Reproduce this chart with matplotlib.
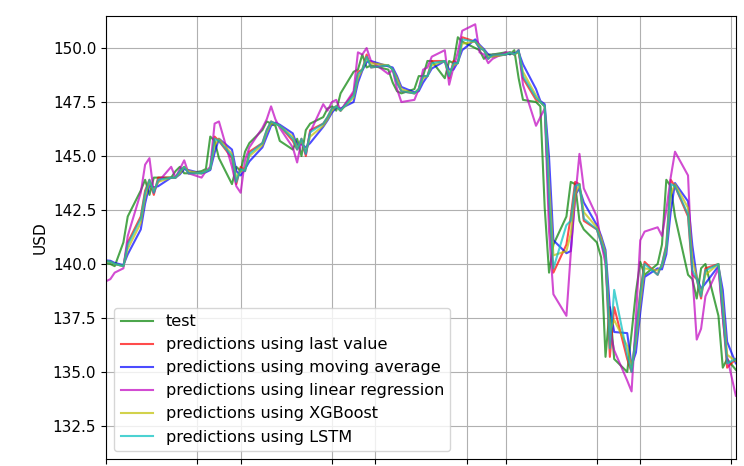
import matplotlib
matplotlib.use('Agg')

import matplotlib.pyplot as plt
import matplotlib.dates as mdates
import pandas as pd

# Trading days shown in the chart
dates = (['2018-06-29'] +
         ['2018-07-%02d' % d for d in [2, 3, 5, 6, 9, 10, 11, 12, 13, 16, 17, 18, 19, 20, 23, 24, 25, 26, 27, 30, 31]] +
         ['2018-08-%02d' % d for d in [1, 2, 3, 6, 7, 8, 9, 10, 13, 14, 15, 16, 17, 20, 21, 22, 23, 24, 27, 28, 29, 30, 31]] +
         ['2018-09-%02d' % d for d in [4, 5, 6, 7, 10, 11, 12, 13, 14, 17, 18, 19, 20, 21, 24, 25, 26, 27, 28]] +
         ['2018-10-%02d' % d for d in [1, 2, 3, 4, 5, 8, 9, 10, 11, 12, 15, 16, 17, 18, 19, 22, 23, 24, 25, 26, 29, 30, 31]] +
         ['2018-11-%02d' % d for d in [1, 2, 5, 6, 7, 8, 9, 12, 13, 14, 15, 16, 19, 20, 21, 23]])

test = [140.1, 140.0, 139.9, 141.0, 142.2, 143.4, 143.9, 143.2, 144.0, 144.0,
        144.0, 144.3, 144.5, 144.2, 144.2, 144.3, 144.4, 145.9, 145.7, 144.9,
        143.7, 144.5, 144.3, 145.2, 145.6, 146.2, 146.6, 146.5, 146.4, 145.7,
        145.3, 145.8, 145.0, 146.2, 146.5, 146.8, 147.2, 147.3, 147.1, 147.9,
        148.9, 149.0, 149.7, 149.1, 149.2, 149.0, 148.4, 148.0, 147.9, 148.1,
        148.7, 148.7, 149.4, 149.4, 148.6, 149.4, 149.3, 150.5, 150.3, 150.0,
        149.9, 149.5, 149.7, 149.7, 149.8, 149.7, 149.9, 148.6, 147.6, 147.5,
        147.3, 142.6, 139.6, 140.9, 142.2, 143.8, 143.7, 142.0, 141.6, 141.0,
        140.3, 135.7, 138.0, 135.6, 135.0, 136.8, 138.7, 140.1, 139.5, 140.0,
        140.9, 143.9, 143.6, 142.2, 139.5, 139.3, 138.4, 139.8, 140.0, 137.6,
        135.2, 135.6, 135.1]

last_value = [140.2, 140.1, 140.0, 139.9, 141.0, 142.2, 143.4, 143.9, 143.2, 144.0,
              144.0, 144.0, 144.3, 144.5, 144.2, 144.2, 144.3, 144.4, 145.9, 145.7,
              144.9, 143.7, 144.5, 144.3, 145.2, 145.6, 146.2, 146.6, 146.5, 146.4,
              145.7, 145.3, 145.8, 145.0, 146.2, 146.5, 146.8, 147.2, 147.3, 147.1,
              147.9, 148.9, 149.0, 149.7, 149.1, 149.2, 149.0, 148.4, 148.0, 147.9,
              148.1, 148.7, 148.7, 149.4, 149.4, 148.6, 149.4, 149.3, 150.5, 150.3,
              150.0, 149.9, 149.5, 149.7, 149.7, 149.8, 149.7, 149.9, 148.6, 147.6,
              147.5, 147.3, 142.6, 139.6, 140.9, 142.2, 143.8, 143.7, 142.0, 141.6,
              141.0, 140.3, 135.7, 138.0, 135.6, 135.0, 136.8, 138.7, 140.1, 139.5,
              140.0, 140.9, 143.9, 143.6, 142.2, 139.5, 139.3, 138.4, 139.8, 140.0,
              137.6, 135.2, 135.6]

moving_avg = [140.2, 140.15, 140.05, 139.95, 140.45, 141.6, 142.8, 143.65, 143.55, 143.6,
              144.0, 144.0, 144.15, 144.4, 144.35, 144.2, 144.25, 144.35, 145.15, 145.8,
              145.3, 144.3, 144.1, 144.4, 144.75, 145.4, 145.9, 146.4, 146.55, 146.45,
              146.05, 145.5, 145.55, 145.4, 145.6, 146.35, 146.65, 147.0, 147.25, 147.2,
              147.5, 148.4, 148.95, 149.35, 149.4, 149.15, 149.1, 148.7, 148.2, 147.95,
              148.0, 148.4, 148.7, 149.05, 149.4, 149.0, 149.0, 149.35, 149.9, 150.4,
              150.15, 149.95, 149.7, 149.6, 149.7, 149.75, 149.75, 149.8, 149.25, 148.1,
              147.55, 147.4, 144.95, 141.1, 140.5, 140.6, 143.2, 143.5, 142.85, 141.8,
              141.3, 140.65, 138.0, 136.85, 136.8, 135.3, 135.9, 137.75, 139.4, 139.8,
              139.75, 140.45, 142.4, 143.75, 142.9, 140.85, 139.4, 138.85, 139.1, 139.9,
              138.8, 136.4, 135.4]

linear_reg = [139.0, 139.3, 139.6, 139.8, 141.3, 143.3, 144.6, 144.9, 143.3, 143.8,
              144.5, 144.0, 144.4, 144.8, 144.2, 144.0, 144.3, 144.5, 146.5, 146.6,
              144.5, 143.6, 143.3, 144.8, 145.4, 146.3, 146.7, 147.3, 146.7, 146.3,
              145.4, 144.7, 145.7, 145.1, 146.1, 147.4, 147.1, 147.5, 147.6, 147.1,
              148.0, 149.8, 149.7, 150.0, 149.4, 148.8, 149.0, 148.1, 147.5, 147.6,
              148.1, 149.0, 149.1, 149.6, 149.9, 148.3, 149.1, 149.8, 150.8, 151.1,
              149.8, 149.7, 149.3, 149.5, 149.8, 149.8, 149.7, 149.9, 148.3, 146.4,
              146.8, 147.2, 141.5, 138.6, 137.6, 140.5, 143.0, 145.1, 143.5, 142.2,
              141.0, 140.0, 137.0, 136.0, 134.6, 134.1, 137.5, 141.1, 141.5, 141.7,
              141.3, 142.5, 144.0, 145.2, 144.1, 139.5, 136.5, 137.0, 138.5, 139.8,
              137.5, 135.7, 133.9]

xgboost = [140.2, 140.1, 140.0, 139.9, 140.7, 141.9, 143.1, 143.8, 143.4, 143.8,
           144.0, 144.0, 144.2, 144.5, 144.3, 144.2, 144.3, 144.4, 145.5, 145.8,
           145.1, 144.0, 144.3, 144.4, 145.0, 145.5, 146.1, 146.5, 146.5, 146.4,
           145.9, 145.4, 145.7, 145.2, 145.9, 146.4, 146.7, 147.1, 147.3, 147.1,
           147.7, 148.6, 149.0, 149.5, 149.3, 149.2, 149.0, 148.6, 148.1, 147.9,
           148.1, 148.6, 148.7, 149.2, 149.4, 148.8, 149.2, 149.3, 150.2, 150.3,
           150.1, 149.9, 149.6, 149.6, 149.7, 149.8, 149.7, 149.8, 148.9, 147.8,
           147.5, 147.3, 143.8, 140.4, 140.6, 141.4, 143.2, 143.7, 142.4, 141.7,
           141.2, 140.5, 136.9, 137.4, 136.2, 135.2, 136.4, 138.2, 139.8, 139.7,
           139.9, 140.7, 143.2, 143.7, 142.6, 140.2, 139.4, 138.6, 139.5, 140.0,
           138.2, 135.8, 135.5]

lstm = [140.2, 140.1, 140.0, 139.9, 140.9, 142.1, 143.3, 143.9, 143.3, 143.9,
        144.0, 144.0, 144.3, 144.5, 144.2, 144.2, 144.3, 144.4, 145.8, 145.7,
        145.0, 143.8, 144.4, 144.3, 145.1, 145.6, 146.2, 146.6, 146.5, 146.4,
        145.8, 145.3, 145.8, 145.1, 146.1, 146.5, 146.8, 147.2, 147.3, 147.1,
        147.8, 148.8, 149.0, 149.6, 149.1, 149.2, 149.0, 148.4, 148.0, 147.9,
        148.1, 148.7, 148.7, 149.3, 149.4, 148.7, 149.3, 149.3, 150.4, 150.3,
        150.0, 149.9, 149.5, 149.7, 149.7, 149.8, 149.7, 149.9, 148.7, 147.7,
        147.5, 147.3, 143.0, 139.8, 141.8, 142.0, 143.6, 143.7, 142.1, 141.6,
        141.0, 140.4, 136.1, 138.8, 135.8, 135.0, 136.7, 138.6, 140.0, 139.5,
        140.0, 140.8, 143.7, 143.6, 142.3, 139.7, 139.3, 138.5, 139.7, 140.0,
        137.8, 135.4, 135.6]

x = pd.to_datetime(dates)

fig = plt.figure(figsize=(7.44, 4.66), dpi=100)
ax = fig.add_axes([0.1425, 0.015, 0.8465, 0.9505])

ax.plot(x, test, 'g-', alpha=0.7, linewidth=1.5, label='test')
ax.plot(x, last_value, 'r-', alpha=0.7, linewidth=1.5, label='predictions using last value')
ax.plot(x, moving_avg, 'b-', alpha=0.7, linewidth=1.5, label='predictions using moving average')
ax.plot(x, linear_reg, 'm-', alpha=0.7, linewidth=1.5, label='predictions using linear regression')
ax.plot(x, xgboost, 'y-', alpha=0.7, linewidth=1.5, label='predictions using XGBoost')
ax.plot(x, lstm, 'c-', alpha=0.7, linewidth=1.5, label='predictions using LSTM')

ax.grid(True)
ax.set_xlim(pd.Timestamp('2018-07-01'), pd.Timestamp('2018-11-23'))
ax.set_ylim(130.97, 151.48)
ax.set_yticks([132.5, 135.0, 137.5, 140.0, 142.5, 145.0, 147.5, 150.0])
ax.xaxis.set_major_locator(mdates.DayLocator(bymonthday=[1, 22]))
ax.tick_params(axis='x', labelbottom=False)
ax.tick_params(axis='y', labelsize=11)
ax.set_ylabel('USD', fontsize=11)
ax.legend(loc='lower left', fontsize=11.6)

fig.savefig('out.png')
